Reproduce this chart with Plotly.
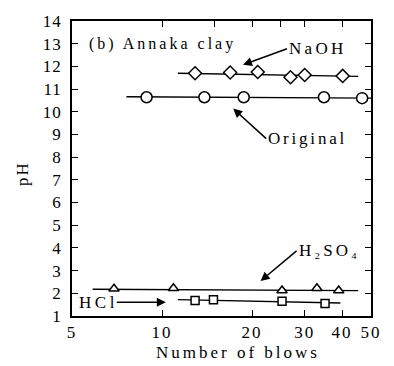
import plotly.graph_objects as go
import math

# ---- data ----
naoh_x = [12.9, 16.9, 20.9, 26.9, 30.0, 40.2]
naoh_y = [11.70, 11.73, 11.75, 11.52, 11.62, 11.58]
naoh_fit_x = [11.3, 45.3]
naoh_fit_y = [11.70, 11.56]

orig_x = [8.88, 13.86, 18.76, 34.8, 46.7]
orig_y = [10.64, 10.64, 10.64, 10.64, 10.60]
orig_fit_x = [7.6, 50.0]
orig_fit_y = [10.66, 10.60]

h2so4_x = [6.91, 10.92, 25.2, 32.97, 39.0]
h2so4_y = [2.20, 2.22, 2.12, 2.22, 2.12]
h2so4_fit_x = [5.86, 45.3]
h2so4_fit_y = [2.18, 2.12]

hcl_x = [12.9, 14.86, 25.2, 35.1]
hcl_y = [1.68, 1.72, 1.65, 1.55]
hcl_fit_x = [11.3, 39.5]
hcl_fit_y = [1.72, 1.57]

x_tickvals = [5, 10, 20, 30, 40, 50]
x_ticklabels = ["5", "10", "20", "30", "40", "50"]
x_top_tickvals = [10, 15, 20, 25, 30, 40]
y_tickvals = list(range(1, 15))
y_ticklabels = [str(v) for v in y_tickvals]

FONT = "Liberation Serif"

def spaced(t, sp=2):
    return f"<span style='letter-spacing:{sp}px'>{t}</span>"

fig = go.Figure()

line_style = dict(color="black", width=1.4)
mk_line = dict(color="black", width=1.5)

for fx, fy in [(naoh_fit_x, naoh_fit_y), (orig_fit_x, orig_fit_y),
               (h2so4_fit_x, h2so4_fit_y), (hcl_fit_x, hcl_fit_y)]:
    fig.add_trace(go.Scatter(x=fx, y=fy, mode="lines", line=line_style,
                             showlegend=False, hoverinfo="skip"))

fig.add_trace(go.Scatter(x=naoh_x, y=naoh_y, mode="markers", name="NaOH",
                         marker=dict(symbol="diamond", size=10, color="white", line=mk_line)))
fig.add_trace(go.Scatter(x=orig_x, y=orig_y, mode="markers", name="Original",
                         marker=dict(symbol="circle", size=11, color="white", line=mk_line)))
fig.add_trace(go.Scatter(x=h2so4_x, y=h2so4_y, mode="markers", name="H2SO4",
                         marker=dict(symbol="triangle-up", size=9, color="white", line=mk_line)))
fig.add_trace(go.Scatter(x=hcl_x, y=hcl_y, mode="markers", name="HCl",
                         marker=dict(symbol="square", size=8, color="white", line=mk_line)))
# invisible trace to anchor top axis
fig.add_trace(go.Scatter(x=[None], y=[None], xaxis="x2", yaxis="y",
                         showlegend=False, hoverinfo="skip"))

xr = [math.log10(5), math.log10(50)]
fig.update_layout(
    width=394, height=366,
    margin=dict(l=72, r=16, t=13, b=50),
    paper_bgcolor="white", plot_bgcolor="white",
    showlegend=False,
    font=dict(family=FONT, size=17, color="black"),
    xaxis=dict(type="log", range=xr, tickvals=x_tickvals,
               ticktext=[spaced(t) for t in x_ticklabels],
               ticks="inside", ticklen=6, tickwidth=1, tickcolor="black",
               showline=True, linecolor="black", linewidth=1.5, mirror=True,
               showgrid=False, zeroline=False,
               tickfont=dict(family=FONT, size=17)),
    xaxis2=dict(type="log", range=xr, overlaying="x", side="top",
                tickvals=x_top_tickvals, showticklabels=False,
                ticks="inside", ticklen=6, tickwidth=1, tickcolor="black",
                showline=True, linecolor="black", linewidth=1.5,
                showgrid=False, zeroline=False),
    yaxis=dict(range=[1, 14], tickvals=y_tickvals,
               ticktext=[spaced(t, 1) for t in y_ticklabels],
               ticks="inside", ticklen=6, tickwidth=1, tickcolor="black",
               showline=True, linecolor="black", linewidth=1.5, mirror="ticks",
               showgrid=False, zeroline=False, ticklabelstandoff=5,
               tickfont=dict(family=FONT, size=17)),
)

def px2paper(px, py):
    return (px - 72) / 306.0, (316 - py) / 303.0

ann = []
def text_ann(t, px, py, anchor="left", size=16, sp=3, angle=0):
    xp, yp = px2paper(px, py)
    ann.append(dict(text=spaced(t, sp), x=xp, y=yp, xref="paper", yref="paper",
                    xanchor=anchor, yanchor="middle", showarrow=False,
                    textangle=angle, font=dict(family=FONT, size=size, color="black")))

def arrow_label(t, tail, tip, anchor="left", size=17, sp=3):
    xp, yp = px2paper(*tip)
    ann.append(dict(text=t if sp is None else spaced(t, sp), x=xp, y=yp,
                    xref="paper", yref="paper",
                    ax=tail[0] - tip[0], ay=tail[1] - tip[1],
                    xanchor=anchor, yanchor="middle",
                    font=dict(family=FONT, size=size, color="black"),
                    showarrow=True, arrowhead=2, arrowsize=1.2, arrowwidth=1.5,
                    arrowcolor="black", standoff=0, startstandoff=0))

text_ann("(b) Annaka clay", 87, 37)
arrow_label("NaOH", (291, 42), (247, 58), sp=3.3)
arrow_label("Original", (270, 133), (237, 103), sp=2.8)
arrow_label("H\u2082SO\u2084", (301, 250), (265, 280), sp=3)
arrow_label(spaced("HC", 3.5) + "l", (119, 302), (168, 302), anchor="right", sp=None)
text_ann("Number of blows", 242, 353, anchor="center", size=17, sp=3)
text_ann("pH", 22, 170, anchor="center", size=17, sp=2, angle=-90)

fig.update_layout(annotations=ann)
fig.write_html("out.html")
